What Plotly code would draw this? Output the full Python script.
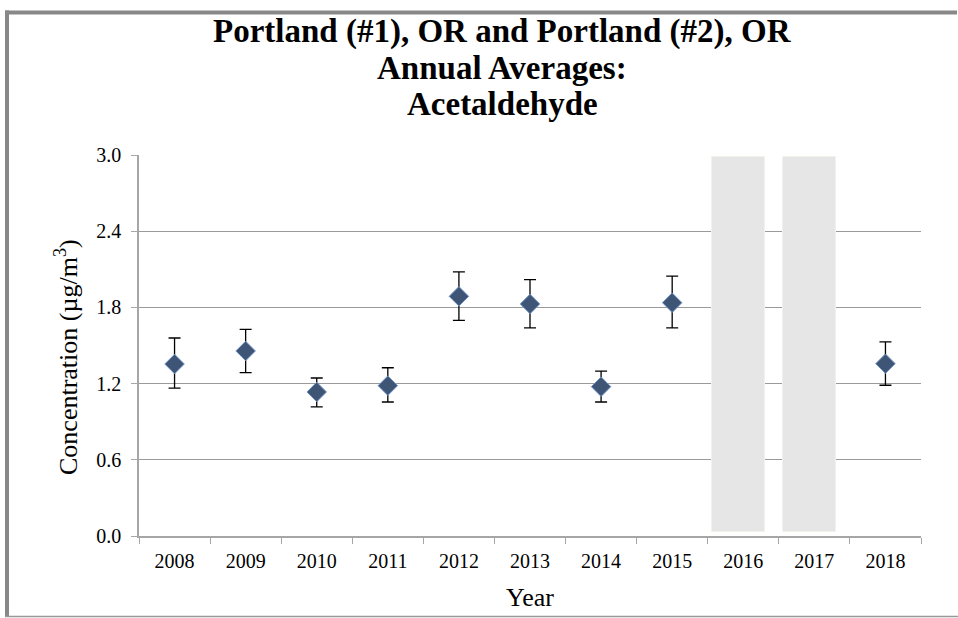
import plotly.graph_objects as go

years = ["2008", "2009", "2010", "2011", "2012", "2013", "2014", "2015", "2016", "2017", "2018"]
point_years = ["2008", "2009", "2010", "2011", "2012", "2013", "2014", "2015", "2018"]
averages = [1.354, 1.457, 1.134, 1.184, 1.887, 1.827, 1.176, 1.837, 1.357]
upper_err = [0.205, 0.170, 0.110, 0.141, 0.192, 0.191, 0.123, 0.210, 0.171]
lower_err = [0.189, 0.171, 0.118, 0.129, 0.189, 0.189, 0.121, 0.199, 0.170]
no_data_years = ["2016", "2017"]
no_data_top = [2.985, 2.985]
no_data_base = [0.03, 0.03]
y_ticks = [0.0, 0.6, 1.2, 1.8, 2.4, 3.0]
title_lines = ["Portland (#1), OR and Portland (#2), OR", "Annual Averages:", "Acetaldehyde"]
x_title = "Year"
y_title = "Concentration (µg/m<sup>3</sup>)"

SERIF = "Liberation Serif"
L, R, T, B = 139, 37, 155, 82
W, H = 958, 618
PW, PH = W - L - R, H - T - B


def px_x(x):
    return (x - L) / PW


def px_y(y):
    return (H - B - y) / PH


fig = go.Figure()
fig.add_trace(go.Bar(
    x=no_data_years,
    y=[t - b for t, b in zip(no_data_top, no_data_base)],
    base=no_data_base,
    width=0.735, offset=-0.435,
    marker=dict(color="#e6e6e6", line=dict(color="#f2f2ea", width=1)),
    hoverinfo="skip", showlegend=False,
))
fig.add_trace(go.Scatter(
    x=point_years, y=averages, mode="markers",
    marker=dict(symbol="diamond", size=15, color="#3f5575",
                line=dict(color="#6f93c8", width=1)),
    error_y=dict(type="data", array=upper_err, arrayminus=lower_err,
                 color="#000000", thickness=1.3, width=6),
    showlegend=False,
))

annotations = []
for line, yc in zip(title_lines, [32, 68, 104]):
    annotations.append(dict(
        text=f"<b>{line}</b>", xref="paper", yref="paper",
        x=px_x(502), y=px_y(yc), xanchor="center", yanchor="middle",
        showarrow=False, font=dict(size=33, family=SERIF, color="#000000"),
    ))
annotations.append(dict(
    text=y_title, xref="paper", yref="paper", textangle=-90,
    x=px_x(66), y=px_y(357), xanchor="center", yanchor="middle",
    showarrow=False, font=dict(size=26, family=SERIF, color="#000000"),
))

fig.update_layout(
    width=W, height=H,
    paper_bgcolor="white", plot_bgcolor="white",
    margin=dict(l=L, r=R, t=T, b=B, autoexpand=False),
    font=dict(family=SERIF, color="#000000", size=20),
    bargap=0,
    xaxis=dict(
        type="category", categoryorder="array", categoryarray=years,
        range=[-0.5, 10.5], tickson="boundaries", ticks="outside", ticklen=6,
        tickcolor="#a6a6a6", showline=True, linecolor="#a6a6a6", linewidth=1.5,
        showgrid=False, tickfont=dict(size=20, family=SERIF), ticklabelstandoff=6,
        title=dict(text=x_title, font=dict(size=26, family=SERIF), standoff=17),
    ),
    yaxis=dict(
        range=[0, 3.0], tickvals=y_ticks, ticktext=[f"{v:.1f}" for v in y_ticks],
        ticks="outside", ticklen=6, tickcolor="#a6a6a6",
        showline=True, linecolor="#a6a6a6", linewidth=1.5,
        showgrid=True, gridcolor="#9a9a9a", gridwidth=1.2, zeroline=False,
        tickfont=dict(size=20, family=SERIF), ticklabelstandoff=6,
    ),
    annotations=annotations,
    shapes=[
        dict(type="line", xref="paper", yref="paper",
             x0=px_x(7), x1=px_x(7), y0=px_y(617), y1=px_y(10.5),
             line=dict(color="#888888", width=4), layer="above"),
        dict(type="line", xref="paper", yref="paper",
             x0=px_x(5), x1=px_x(957), y0=px_y(12.5), y1=px_y(12.5),
             line=dict(color="#888888", width=4), layer="above"),
        dict(type="line", xref="paper", yref="paper",
             x0=px_x(5), x1=px_x(W), y0=px_y(616.5), y1=px_y(616.5),
             line=dict(color="#999999", width=1.5), layer="above"),
    ],
)

fig.write_html("out.html", config={"displayModeBar": False},
               post_script="document.body.style.margin='0px';document.body.style.overflow='hidden';")
